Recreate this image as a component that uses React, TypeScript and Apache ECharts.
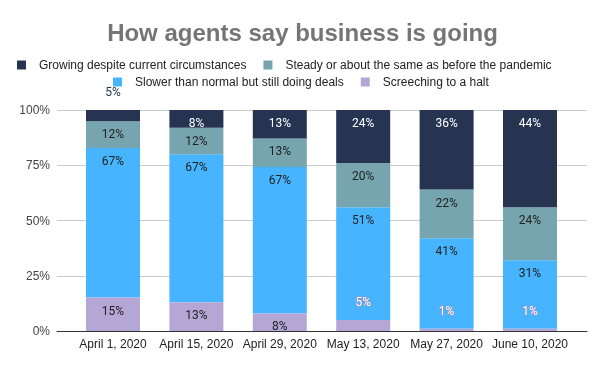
import React, { useEffect, useRef } from "react";
import * as echarts from "echarts";

const categories = ["April 1, 2020", "April 15, 2020", "April 29, 2020", "May 13, 2020", "May 27, 2020", "June 10, 2020"];
const seriesNames = [
  "Growing despite current circumstances",
  "Steady or about the same as before the pandemic",
  "Slower than normal but still doing deals",
  "Screeching to a halt",
];
const growing = [5, 8, 13, 24, 36, 44];
const steady = [12, 12, 13, 20, 22, 24];
const slower = [67, 67, 67, 51, 41, 31];
const screeching = [15, 13, 8, 5, 1, 1];
const yTicks = [0, 25, 50, 75, 100];

const colors = ["#263451", "#76a5af", "#46b4fe", "#b4a7d6"];
const FONT = "'Liberation Sans', Arial, sans-serif";
const LABEL_FONT = "Roboto, 'Liberation Sans', sans-serif";

export default function App() {
  const ref = useRef<HTMLDivElement>(null);
  useEffect(() => {
    if (!ref.current) return;
    const chart = echarts.init(ref.current, null, { renderer: "svg" });
    const raw = [growing, steady, slower, screeching];
    const sums = categories.map((_, i) => raw.reduce((s, arr) => s + arr[i], 0));

    const makeData = (arr: number[], si: number) =>
      arr.map((v, i) => {
        const small = v < 6;
        const base: any = { value: (v / sums[i]) * 100, raw: v };
        if (small) {
          base.label = {
            show: true,
            position: "top",
            distance: 12,
            color: si === 0 ? colors[0] : "#ffffff",
            textBorderColor: si === 0 ? "transparent" : "#9c8fc0",
            textBorderWidth: si === 0 ? 0 : 1.2,
          };
        }
        return base;
      });

    // stack order bottom-up: screeching, slower, steady, growing
    const order = [3, 2, 1, 0];
    const series: any[] = order.map((si) => ({
      name: seriesNames[si],
      type: "bar",
      stack: "total",
      xAxisIndex: 1,
      yAxisIndex: 1,
      barWidth: 54,
      z: si === 3 ? 4 : 2,
      itemStyle: { color: colors[si] },
      label: {
        show: true,
        position: "insideTop",
        distance: 7,
        fontSize: 12,
        fontFamily: LABEL_FONT,
        color: si === 0 ? "#ffffff" : "#222222",
        formatter: (p: any) => `${p.data.raw}%`,
      },
      data: makeData(raw[si], si),
    }));

    const legendCommon = {
      icon: "rect",
      itemWidth: 9,
      itemHeight: 9,
      itemGap: 17,
      padding: 0,
      textStyle: { fontFamily: FONT, fontSize: 12, color: "#222222", padding: [0, 0, 0, 8] },
    };

    chart.setOption({
      animation: false,
      color: colors,
      title: {
        text: "How agents say business is going",
        left: "center",
        top: 20,
        padding: 0,
        textStyle: { fontFamily: FONT, fontSize: 24, fontWeight: "bold", color: "#757575" },
      },
      legend: [
        { ...legendCommon, data: [seriesNames[0], seriesNames[1]], left: 17, top: 59 },
        { ...legendCommon, data: [seriesNames[2], seriesNames[3]], left: 113, top: 76 },
      ],
      grid: [
        { left: 57, right: 18, top: 110, bottom: 39 },
        { left: 71.3, right: 33.3, top: 110, bottom: 39 },
      ],
      xAxis: [
        {
          type: "value",
          gridIndex: 0,
          min: 0,
          max: 1,
          axisLine: { show: true, lineStyle: { color: "#333333", width: 1 } },
          axisTick: { show: false },
          axisLabel: { show: false },
          splitLine: { show: false },
        },
        {
          type: "category",
          gridIndex: 1,
          data: categories,
          axisLine: { show: false },
          axisTick: { show: false },
          axisLabel: { margin: 7, fontFamily: FONT, fontSize: 12, color: "#222222", interval: 0 },
        },
      ],
      yAxis: [
        {
          type: "value",
          gridIndex: 0,
          min: yTicks[0],
          max: yTicks[yTicks.length - 1],
          interval: 25,
          axisLine: { show: false },
          axisTick: { show: false },
          axisLabel: { margin: 7, fontFamily: FONT, fontSize: 12, color: "#444444", formatter: "{value}%" },
          splitLine: { show: true, lineStyle: { color: "#cccccc", width: 1 } },
        },
        {
          type: "value",
          gridIndex: 1,
          min: 0,
          max: 100,
          show: false,
          splitLine: { show: false },
        },
      ],
      series,
    });
    return () => chart.dispose();
  }, []);
  return <div ref={ref} style={{ position: "fixed", left: 0, top: 0, width: 605, height: 370 }} />;
}
